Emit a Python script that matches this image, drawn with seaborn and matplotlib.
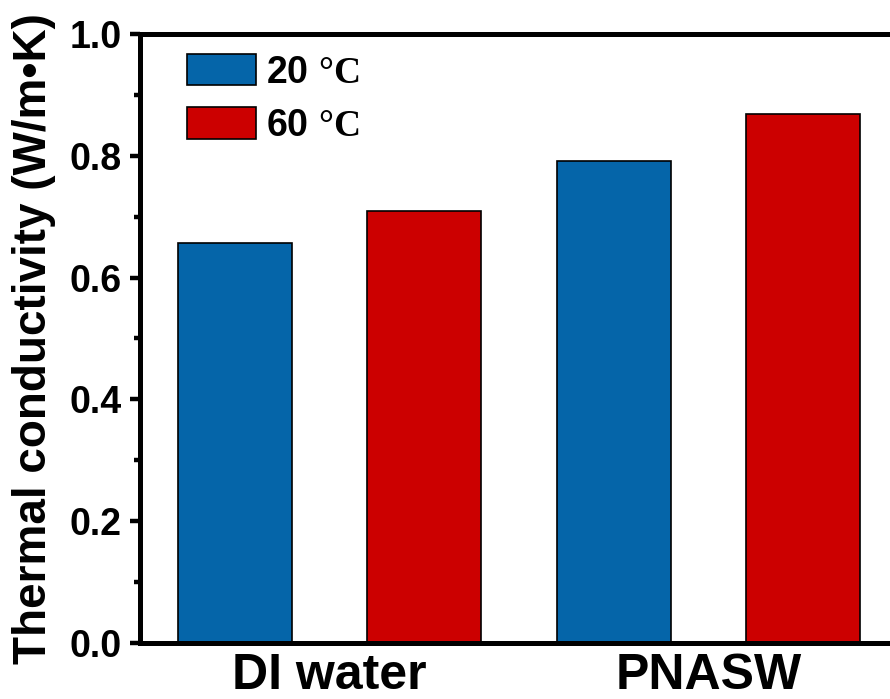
import matplotlib
matplotlib.use("Agg")
import matplotlib.pyplot as plt
from matplotlib.ticker import MultipleLocator
import pandas as pd
import seaborn as sns

# data
samples = ["DI water", "PNASW"]
temps = ["$\\mathbf{20}$ $\\mathrm{°C}$", "$\\mathbf{60}$ $\\mathrm{°C}$"]
k_20 = [0.656, 0.792]
k_60 = [0.710, 0.869]
colors = ["#0565A9", "#CC0000"]

df = pd.DataFrame({
    "sample": samples * 2,
    "temp": [temps[0]] * 2 + [temps[1]] * 2,
    "k": k_20 + k_60,
})

sns.set_style("ticks")
plt.rcParams["font.family"] = ["Liberation Sans", "DejaVu Sans"]
plt.rcParams["font.weight"] = "bold"
plt.rcParams["text.color"] = "black"
plt.rcParams["axes.labelcolor"] = "black"
plt.rcParams["xtick.color"] = "black"
plt.rcParams["ytick.color"] = "black"
plt.rcParams["mathtext.fontset"] = "custom"
plt.rcParams["mathtext.rm"] = "Liberation Serif"
plt.rcParams["mathtext.bf"] = "Liberation Sans:bold"

fig = plt.figure(figsize=(8.9, 6.99), dpi=100)
ax = fig.add_axes([140 / 890, 1 - 643 / 699, 758 / 890, (643 - 34) / 699])

sns.barplot(data=df, x="sample", y="k", hue="temp", hue_order=temps,
            palette=colors, saturation=1, width=1.0, gap=0.4,
            edgecolor="black", linewidth=1.2, ax=ax)

ax.set_xlim(-0.5, 1.5)
ax.set_ylim(0, 1.0)
ax.yaxis.set_major_locator(MultipleLocator(0.2))
ax.yaxis.set_minor_locator(MultipleLocator(0.1))
ax.yaxis.set_major_formatter(plt.FormatStrFormatter("%.1f"))

for s in ax.spines.values():
    s.set_linewidth(3.6)
    s.set_color("black")

ax.tick_params(axis="y", which="major", direction="out", length=7, width=3.2,
               labelsize=27, pad=6, colors="black")
ax.tick_params(axis="y", which="minor", direction="out", length=4, width=3.2,
               colors="black")
ax.tick_params(axis="x", length=0, labelsize=36, pad=7, colors="black")
for lbl in ax.get_yticklabels() + ax.get_xticklabels():
    lbl.set_fontweight("bold")

ax.set_xlabel("")
ax.set_ylabel("Thermal conductivity (W/m•K)", fontsize=33, fontweight="bold")
ax.yaxis.set_label_coords(-0.111, 0.5)

ax.legend(loc="upper left", bbox_to_anchor=(0.062, 0.967), frameon=False,
          handlelength=1.85, handleheight=0.9,
          handletextpad=0.25, labelspacing=0.45, borderaxespad=0, borderpad=0,
          prop={"weight": "bold", "size": 27})

fig.savefig("out.png", dpi=100)
